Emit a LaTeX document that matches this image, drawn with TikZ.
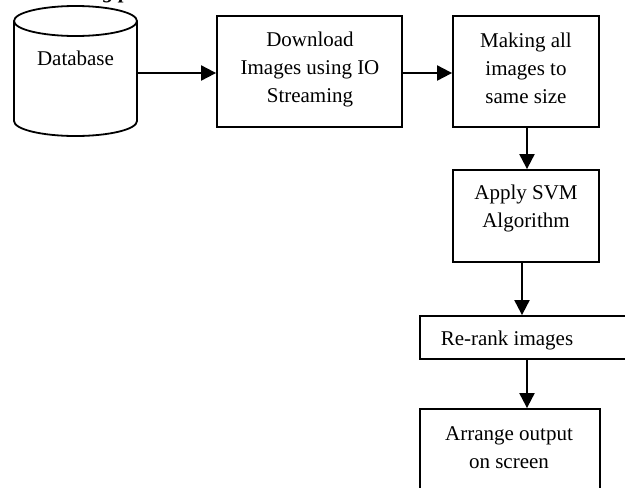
\documentclass[tikz,border=0pt]{standalone}
\usepackage{fontspec}
\setmainfont{Liberation Serif}
\usetikzlibrary{arrows.meta}
\begin{document}
\begin{tikzpicture}[x=1pt,y=-1pt,
  boxline/.style={draw=black,line width=1.8pt},
  box/.style={boxline,rectangle,inner sep=0pt},
  txt/.style={align=center,inner sep=0pt,font=\fontsize{21}{28}\selectfont},
  arr/.style={line width=2pt,-{Triangle[length=15pt,width=15pt]}}]
\useasboundingbox (0,0) rectangle (625,488);
\clip (0,0) rectangle (625,488);
% cut-off heading fragment
\node[anchor=base west,inner sep=0pt,font=\fontsize{21}{28}\selectfont\bfseries\itshape] (head) at (86,-1.5) {ing p};
% database cylinder
\draw[boxline,fill=white] (14,21) -- (14,121) arc[start angle=180,end angle=360,x radius=61.5,y radius=-15] -- (137,21);
\draw[boxline,fill=white] (75.5,21) ellipse[x radius=61.5,y radius=15];
\coordinate (dbE) at (137,73);
\node[txt] (dbt) at (75.5,58) {Database};
% boxes
\node[box,minimum width=185pt,minimum height=111pt] (dl) at (309.5,71.5) {};
\node[box,minimum width=146pt,minimum height=111pt] (mk) at (526,71.5) {};
\node[box,minimum width=146pt,minimum height=92pt] (svm) at (526,216) {};
\node[box,minimum width=260pt,minimum height=43pt] (rr) at (550,337.5) {};
\node[box,minimum width=180pt,minimum height=91pt] (ar) at (510,454.5) {};
% texts
\node[txt] (dlt) at (310,69.5) {Download\\Images using IO\\Streaming};
\node[txt] (mkt) at (526,68.5) {Making all\\images to\\same size};
\node[txt] (svmt) at (526,208.5) {Apply SVM\\Algorithm};
\node[txt] (rrt) at (507,340) {Re-rank images};
\node[txt] (art) at (509,447.5) {Arrange output\\on screen};
% arrows
\draw[arr] (dbE) -- (dbE -| dl.west);
\draw[arr] (dl.east |- dbE) -- (mk.west |- dbE);
\draw[arr] ([xshift=1pt]mk.south) -- ([xshift=1pt]svm.north);
\draw[arr] ([xshift=-4pt]svm.south) -- ([xshift=-4pt]svm.south |- rr.north);
\draw[arr] ([xshift=-23pt]rr.south) -- ([xshift=-23pt]rr.south |- ar.north);
\end{tikzpicture}
\end{document}
